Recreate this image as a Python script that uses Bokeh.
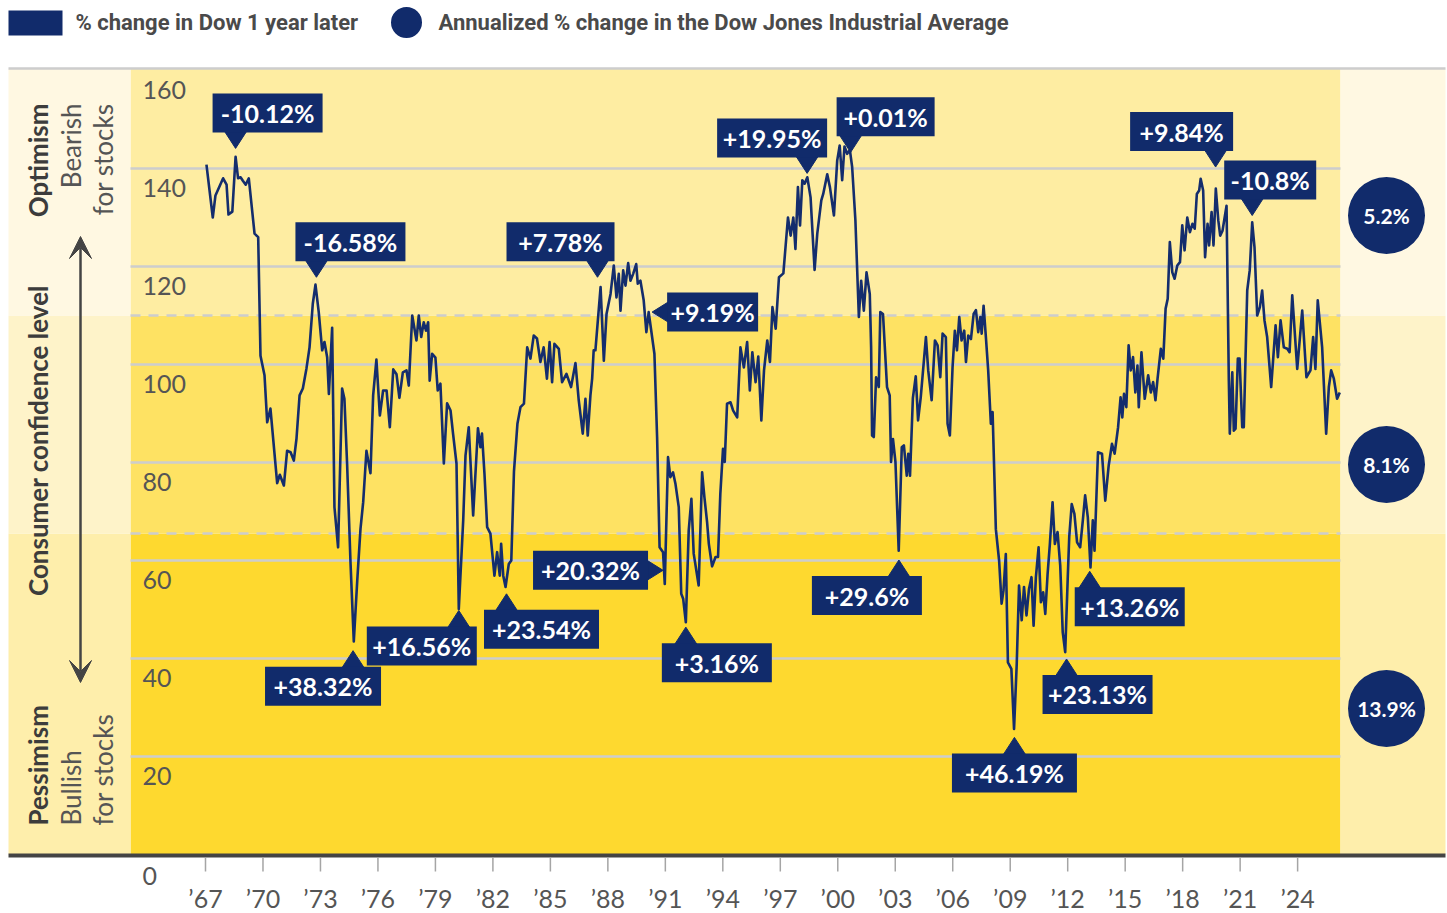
import math
from bokeh.plotting import figure
from bokeh.models import Range1d, Arrow, VeeHead
from bokeh.core.properties import value
from bokeh.embed import file_html
from bokeh.resources import INLINE

# ---------------- data ----------------
dates = [
    1967.05, 1967.38, 1967.52, 1967.92, 1968.10, 1968.20, 1968.40, 1968.57, 1968.70, 1968.83,
    1968.95, 1969.10, 1969.26, 1969.56, 1969.75, 1969.87, 1970.08, 1970.22, 1970.39, 1970.74,
    1970.88, 1971.09, 1971.26, 1971.44, 1971.61, 1971.75, 1971.91, 1972.08, 1972.27, 1972.43,
    1972.60, 1972.74, 1972.91, 1973.09, 1973.21, 1973.35, 1973.44, 1973.61, 1973.73, 1973.92,
    1974.13, 1974.25, 1974.39, 1974.57, 1974.74, 1974.92, 1975.09, 1975.23, 1975.40, 1975.61,
    1975.75, 1975.92, 1976.10, 1976.27, 1976.45, 1976.62, 1976.80, 1976.97, 1977.12, 1977.30,
    1977.49, 1977.61, 1977.79, 1978.01, 1978.13, 1978.26, 1978.39, 1978.51, 1978.62, 1978.70,
    1978.83, 1979.00, 1979.12, 1979.26, 1979.44, 1979.61, 1979.79, 1979.92, 1980.10, 1980.22,
    1980.45, 1980.57, 1980.74, 1980.97, 1981.22, 1981.35, 1981.43, 1981.56, 1981.70, 1981.87,
    1982.08, 1982.22, 1982.36, 1982.43, 1982.54, 1982.66, 1982.83, 1982.96, 1983.10, 1983.28,
    1983.44, 1983.62, 1983.79, 1983.96, 1984.13, 1984.30, 1984.48, 1984.65, 1984.82, 1984.96,
    1985.09, 1985.21, 1985.44, 1985.61, 1985.84, 1986.08, 1986.31, 1986.48, 1986.69, 1986.83,
    1986.95, 1987.09, 1987.18, 1987.26, 1987.35, 1987.62, 1987.79, 1987.93, 1988.14, 1988.31,
    1988.45, 1988.57, 1988.66, 1988.80, 1988.92, 1989.06, 1989.18, 1989.32, 1989.48, 1989.56,
    1989.70, 1989.87, 1990.01, 1990.13, 1990.25, 1990.43, 1990.57, 1990.70, 1990.88, 1990.97,
    1991.14, 1991.26, 1991.40, 1991.53, 1991.70, 1991.83, 1991.93, 1992.07, 1992.22, 1992.36,
    1992.48, 1992.74, 1992.92, 1993.04, 1993.18, 1993.27, 1993.44, 1993.62, 1993.75, 1993.87,
    1994.01, 1994.10, 1994.22, 1994.40, 1994.54, 1994.75, 1994.92, 1995.10, 1995.27, 1995.41,
    1995.54, 1995.71, 1995.85, 1996.01, 1996.15, 1996.32, 1996.46, 1996.59, 1996.76, 1996.93,
    1997.16, 1997.40, 1997.54, 1997.68, 1997.79, 1997.92, 1998.03, 1998.15, 1998.27, 1998.41,
    1998.58, 1998.79, 1998.93, 1999.14, 1999.24, 1999.45, 1999.59, 1999.80, 1999.97, 2000.10,
    2000.23, 2000.35, 2000.49, 2000.63, 2000.75, 2000.92, 2001.10, 2001.22, 2001.36, 2001.50,
    2001.67, 2001.74, 2001.79, 2001.88, 2002.00, 2002.14, 2002.22, 2002.36, 2002.57, 2002.71,
    2002.78, 2002.88, 2003.01, 2003.18, 2003.34, 2003.45, 2003.60, 2003.68, 2003.77, 2003.92,
    2004.07, 2004.19, 2004.33, 2004.60, 2004.72, 2004.90, 2005.07, 2005.21, 2005.35, 2005.47,
    2005.64, 2005.73, 2005.85, 2005.99, 2006.11, 2006.22, 2006.34, 2006.46, 2006.60, 2006.69,
    2006.81, 2006.95, 2007.09, 2007.21, 2007.33, 2007.44, 2007.51, 2007.61, 2007.73, 2007.85,
    2007.99, 2008.08, 2008.25, 2008.42, 2008.55, 2008.65, 2008.77, 2008.88, 2009.06, 2009.20,
    2009.34, 2009.46, 2009.60, 2009.72, 2009.85, 2009.98, 2010.11, 2010.22, 2010.34, 2010.48,
    2010.60, 2010.72, 2010.83, 2010.95, 2011.07, 2011.21, 2011.33, 2011.47, 2011.61, 2011.74,
    2011.87, 2012.00, 2012.08, 2012.21, 2012.35, 2012.49, 2012.65, 2012.79, 2012.91, 2013.05,
    2013.19, 2013.31, 2013.40, 2013.58, 2013.79, 2013.96, 2014.14, 2014.31, 2014.45, 2014.63,
    2014.76, 2014.85, 2014.94, 2015.06, 2015.18, 2015.29, 2015.41, 2015.53, 2015.64, 2015.71,
    2015.85, 2016.02, 2016.20, 2016.34, 2016.46, 2016.58, 2016.69, 2016.86, 2016.99, 2017.11,
    2017.22, 2017.33, 2017.46, 2017.58, 2017.72, 2017.86, 2017.98, 2018.10, 2018.24, 2018.38,
    2018.51, 2018.63, 2018.74, 2018.86, 2018.94, 2019.07, 2019.17, 2019.30, 2019.38, 2019.51,
    2019.61, 2019.73, 2019.86, 2019.96, 2020.08, 2020.29, 2020.41, 2020.46, 2020.59, 2020.67,
    2020.76, 2020.88, 2020.97, 2021.11, 2021.19, 2021.37, 2021.50, 2021.63, 2021.75, 2021.89,
    2022.03, 2022.15, 2022.27, 2022.41, 2022.62, 2022.85, 2022.97, 2023.11, 2023.28, 2023.46,
    2023.58, 2023.72, 2023.98, 2024.24, 2024.46, 2024.67, 2024.81, 2024.93, 2025.05, 2025.28,
    2025.49, 2025.63, 2025.75, 2025.89, 2026.06, 2026.20,
]
confidence = [
    140.8, 130.0, 134.5, 138.0, 136.7, 130.6, 131.2, 142.4, 138.0, 138.2,
    137.5, 136.7, 138.0, 126.7, 126.0, 101.8, 97.8, 88.2, 91.0, 75.8,
    77.5, 75.3, 82.4, 82.1, 80.4, 84.9, 93.7, 95.1, 99.2, 103.5,
    112.4, 116.3, 110.7, 102.9, 104.6, 101.5, 94.0, 107.5, 70.9, 62.7,
    95.1, 93.0, 79.8, 59.4, 43.5, 55.9, 66.5, 71.9, 82.4, 77.8,
    93.7, 101.0, 89.6, 94.7, 94.7, 87.2, 99.0, 98.0, 93.2, 98.4,
    98.8, 95.7, 110.0, 104.9, 110.0, 105.6, 108.6, 106.9, 108.6, 96.7,
    102.2, 101.4, 94.7, 96.1, 79.8, 92.1, 90.6, 85.9, 79.8, 50.1,
    68.2, 81.4, 87.2, 69.2, 87.0, 83.1, 85.9, 77.7, 66.8, 65.5,
    56.9, 61.7, 56.9, 63.4, 56.9, 54.6, 59.3, 60.0, 78.2, 87.9,
    91.3, 92.0, 103.5, 101.2, 105.9, 105.3, 100.5, 103.5, 97.1, 104.6,
    96.4, 104.2, 103.2, 96.4, 98.1, 95.4, 100.3, 92.7, 85.9, 93.0,
    85.5, 93.7, 97.1, 102.9, 102.9, 115.8, 100.8, 110.3, 114.4, 120.2,
    113.7, 118.5, 111.0, 119.2, 116.1, 120.7, 117.1, 118.5, 120.5, 116.5,
    117.1, 113.1, 106.6, 110.7, 107.3, 102.2, 85.2, 62.7, 61.7, 55.2,
    81.1, 77.0, 78.0, 75.6, 70.9, 53.2, 52.2, 47.4, 66.1, 72.6,
    61.4, 54.9, 78.0, 72.9, 67.8, 63.4, 58.8, 60.7, 60.7, 73.6,
    82.8, 80.1, 92.0, 92.3, 90.6, 89.2, 103.5, 99.4, 104.6, 94.7,
    102.5, 96.4, 101.6, 88.6, 98.8, 104.9, 100.5, 111.7, 107.3, 117.8,
    118.6, 130.0, 126.3, 130.0, 123.6, 136.2, 128.4, 137.6, 136.9, 138.2,
    134.1, 119.3, 126.7, 133.5, 134.8, 138.8, 136.2, 130.4, 141.6, 144.7,
    137.6, 144.5, 143.0, 143.8, 140.3, 129.4, 109.7, 117.1, 111.0, 118.8,
    114.4, 103.5, 85.5, 85.2, 97.4, 95.4, 110.7, 110.3, 95.4, 93.7,
    80.1, 84.8, 80.1, 62.0, 83.1, 83.5, 77.3, 81.8, 77.3, 93.2,
    97.6, 88.6, 93.3, 105.6, 98.8, 92.7, 104.9, 103.9, 97.4, 106.3,
    105.6, 87.9, 85.5, 99.4, 106.9, 102.9, 109.7, 104.9, 106.9, 100.5,
    105.9, 105.2, 110.3, 111.1, 106.6, 109.7, 106.3, 112.0, 105.6, 98.8,
    87.9, 90.3, 66.4, 60.0, 51.2, 53.9, 61.3, 39.2, 37.9, 25.6,
    38.9, 54.9, 47.8, 54.6, 48.8, 54.2, 56.6, 46.7, 56.6, 62.7,
    51.5, 53.5, 49.1, 57.2, 63.4, 71.9, 63.4, 65.8, 59.0, 45.4,
    41.3, 56.2, 64.8, 71.5, 69.5, 63.7, 62.7, 68.2, 73.3, 68.8,
    58.6, 68.2, 62.0, 82.1, 81.8, 72.2, 79.4, 83.8, 81.8, 87.2,
    93.3, 89.2, 94.0, 91.3, 103.9, 98.8, 101.5, 94.3, 99.8, 91.3,
    102.5, 93.0, 97.8, 94.3, 96.4, 92.7, 97.1, 103.2, 101.2, 111.4,
    113.4, 125.0, 118.8, 117.5, 120.2, 120.9, 128.4, 123.3, 130.0, 127.0,
    128.7, 127.7, 134.8, 135.5, 137.9, 135.5, 121.9, 128.7, 124.3, 131.1,
    124.3, 135.9, 129.4, 126.3, 127.3, 132.4, 96.7, 85.9, 98.4, 86.5,
    86.9, 101.2, 101.2, 87.2, 87.2, 115.1, 119.2, 129.0, 123.9, 110.0,
    111.7, 115.1, 109.0, 105.6, 95.4, 108.0, 101.5, 109.0, 103.5, 103.2,
    102.5, 114.1, 99.1, 111.0, 97.4, 98.8, 105.6, 99.1, 113.1, 103.5,
    85.9, 95.4, 98.8, 97.1, 93.0, 94.3,
]

y_ticks = [0, 20, 40, 60, 80, 100, 120, 140, 160]
year_ticks = [1967, 1970, 1973, 1976, 1979, 1982, 1985, 1988, 1991, 1994,
              1997, 2000, 2003, 2006, 2009, 2012, 2015, 2018, 2021, 2024]
year_labels = ["\u201967", "\u201970", "\u201973", "\u201976", "\u201979", "\u201982",
               "\u201985", "\u201988", "\u201991", "\u201994", "\u201997", "\u201900",
               "\u201903", "\u201906", "\u201909", "\u201912", "\u201915", "\u201918",
               "\u201921", "\u201924"]

zone_edges = [0, 65.5, 110, 160.4]          # pessimism / neutral / optimism
zone_returns = ["13.9%", "8.1%", "5.2%"]     # annualized Dow change per zone

ann_dates = [1968.57, 1972.79, 1987.46, 1990.31, 1998.40, 2000.67, 2019.72, 2021.63,
             1974.70, 1980.22, 1982.71, 1990.88, 1992.07, 2003.19, 2009.22, 2011.94, 2013.15]
ann_values = [144.1, 117.8, 117.8, 110.7, 139.0, 143.3, 140.3, 130.4,
              41.6, 49.8, 53.2, 58.0, 46.4, 60.1, 23.9, 39.9, 57.8]
ann_texts = ["-10.12%", "-16.58%", "+7.78%", "+9.19%", "+19.95%", "+0.01%", "+9.84%", "-10.8%",
             "+38.32%", "+16.56%", "+23.54%", "+20.32%", "+3.16%", "+29.6%", "+46.19%",
             "+23.13%", "+13.26%"]

# ---------------- layout / style ----------------
ann_sides = ["down", "down", "down", "left", "down", "down", "down", "down",
             "up", "up", "up", "right", "up", "up", "up", "up", "up"]
ann_box_w = [110, 110, 108, 91, 110, 98, 103, 92, 116, 110, 115, 115, 110, 110, 125, 110, 110]
ann_box_dx = [32, 34, -37, 0, -35, 35, -34, 18, -30, -37, 35, 0, 31, -32, 0, 31, 40]

NAVY = "#112B6B"
LINE = "#142D6D"
GRID = "#CDCDCD"
TXT = "#555555"
DARK = "#3C3C3C"
FONT = "Lato"
LEG_FONT = "Roboto"

PXY = 19.16   # pixels per year
PXU = 4.9     # pixels per index point


def X(px):  # canvas pixel -> year
    return 1967 + (px - 205) / PXY


def Y(py):  # canvas pixel -> index value
    return (854 - py) / PXU


W, H = 1446, 912
p = figure(width=W, height=H, x_range=Range1d(X(0), X(W)), y_range=Range1d(Y(H), Y(0)),
           output_backend="svg", toolbar_location=None, min_border=0,
           x_axis_location=None, y_axis_location=None)
p.grid.visible = False
p.outline_line_color = None
p.background_fill_color = "white"
p.border_fill_color = "white"

# zone bands
plot_cols = ["#FED92F", "#FEE263", "#FEEDA2"]
side_cols = ["#FEEEAB", "#FEF3C9", "#FFF8E2"]
p.quad(left=X(130), right=X(1340), bottom=zone_edges[:-1], top=zone_edges[1:],
       fill_color=plot_cols, line_color=None)
p.quad(left=X(8), right=X(130), bottom=zone_edges[:-1], top=zone_edges[1:],
       fill_color=side_cols, line_color=None)
p.quad(left=X(1340), right=X(1445), bottom=zone_edges[:-1], top=zone_edges[1:],
       fill_color=side_cols, line_color=None)

# grid lines
grid_vals = [v for v in y_ticks if 0 < v < 160]
p.segment(x0=[X(130)] * len(grid_vals), y0=grid_vals, x1=[X(1340)] * len(grid_vals), y1=grid_vals,
          line_color=GRID, line_width=2.5)
p.segment(x0=[X(8)], y0=[zone_edges[-1]], x1=[X(1445)], y1=[zone_edges[-1]],
          line_color=GRID, line_width=2.5)
mid = zone_edges[1:-1]
p.segment(x0=[X(130)] * len(mid), y0=mid, x1=[X(1340)] * len(mid), y1=mid,
          line_color=GRID, line_width=2.5, line_dash="10 8")

# y tick labels (inside the plot, under each grid line)
lab_vals = [v for v in y_ticks if v > 0]
p.text(x=[X(142)] * len(lab_vals), y=[v - 19 / PXU for v in lab_vals], text=[str(v) for v in lab_vals],
       text_font=value(FONT), text_font_size="25px", text_color=TXT,
       text_align="left", text_baseline="middle")
p.text(x=[X(142)], y=[Y(875)], text=[str(y_ticks[0])],
       text_font=value(FONT), text_font_size="25px", text_color=TXT,
       text_align="left", text_baseline="middle")

# x axis line, ticks, labels
p.segment(x0=[X(8)], y0=[Y(855)], x1=[X(1445)], y1=[Y(855)], line_color="#444444", line_width=4)
p.segment(x0=year_ticks, y0=[Y(857)] * len(year_ticks), x1=year_ticks, y1=[Y(871)] * len(year_ticks),
          line_color="#A5A5A5", line_width=1.5)
p.text(x=year_ticks, y=[Y(897)] * len(year_ticks), text=year_labels,
       text_font=value(FONT), text_font_size="25px", text_color=TXT,
       text_align="center", text_baseline="middle")

# confidence line
p.line(dates, confidence, line_color=LINE, line_width=2.6, line_join="round")

# annotations
BOX_H, TRI_H, TRI_HW = 39, 17, 11
bl, br, bb, bt, cx_l, cy_l, txs, tys = [], [], [], [], [], [], [], []
for d, v, side, w, off in zip(ann_dates, ann_values, ann_sides, ann_box_w, ann_box_dx):
    if side in ("down", "up"):
        sgn = 1 if side == "down" else -1
        base = v + sgn * TRI_H / PXU
        txs.append([d - TRI_HW / PXY, d + TRI_HW / PXY, d])
        tys.append([base, base, v])
        near = v + sgn * (TRI_H - 1) / PXU
        far = near + sgn * BOX_H / PXU
        b, t = min(near, far), max(near, far)
        c = d + off / PXY
        l, r = c - w / 2 / PXY, c + w / 2 / PXY
    else:
        sgn = 1 if side == "left" else -1
        base = d + sgn * 16 / PXY
        txs.append([base, base, d])
        tys.append([v + 10 / PXU, v - 10 / PXU, v])
        near = d + sgn * 15 / PXY
        far = near + sgn * w / PXY
        l, r = min(near, far), max(near, far)
        b, t = v - BOX_H / 2 / PXU, v + BOX_H / 2 / PXU
    bl.append(l); br.append(r); bb.append(b); bt.append(t)
    cx_l.append((l + r) / 2); cy_l.append((b + t) / 2)

p.patches(xs=txs, ys=tys, fill_color=NAVY, line_color=NAVY)
p.quad(left=bl, right=br, bottom=bb, top=bt, fill_color=NAVY, line_color=None)
p.text(x=cx_l, y=cy_l, text=ann_texts, text_font=value(FONT), text_font_size="25px",
       text_font_style="bold", text_color="white", text_align="center", text_baseline="middle")

# zone return circles
circle_y = [Y(708), Y(464), Y(215)]
p.scatter(x=[X(1386)] * 3, y=circle_y, size=77, marker="circle", fill_color=NAVY, line_color=None)
p.text(x=[X(1386)] * 3, y=circle_y, text=zone_returns, text_font=value(FONT), text_font_size="21px",
       text_font_style="bold", text_color="white", text_align="center", text_baseline="middle")

# left panel texts (rotated, reading bottom to top)
rot = math.pi / 2
p.text(x=[X(37.5)], y=[Y(103)], text=["Optimism"], angle=rot, text_font=value(FONT),
       text_font_size="26px", text_font_style="bold", text_color=DARK,
       text_align="right", text_baseline="middle")
p.text(x=[X(70), X(102)], y=[Y(103), Y(103)], text=["Bearish", "for stocks"], angle=rot,
       text_font=value(FONT), text_font_size="26px", text_color=TXT,
       text_align="right", text_baseline="middle")
p.text(x=[X(37.5)], y=[Y(440)], text=["Consumer confidence level"], angle=rot, text_font=value(FONT),
       text_font_size="26px", text_font_style="bold", text_color=DARK,
       text_align="center", text_baseline="middle")
p.text(x=[X(37.5)], y=[Y(825)], text=["Pessimism"], angle=rot, text_font=value(FONT),
       text_font_size="26px", text_font_style="bold", text_color=DARK,
       text_align="left", text_baseline="middle")
p.text(x=[X(70), X(102)], y=[Y(825), Y(825)], text=["Bullish", "for stocks"], angle=rot,
       text_font=value(FONT), text_font_size="26px", text_color=TXT,
       text_align="left", text_baseline="middle")
p.add_layout(Arrow(start=VeeHead(size=22, fill_color="#444444", line_color="#444444"),
                   end=VeeHead(size=22, fill_color="#444444", line_color="#444444"),
                   x_start=X(80), y_start=Y(682), x_end=X(80), y_end=Y(236),
                   line_color="#444444", line_width=2.5))

# legend
p.quad(left=[X(8)], right=[X(62)], bottom=[Y(35)], top=[Y(10)], fill_color=NAVY, line_color=None)
p.scatter(x=[X(406)], y=[Y(22)], size=31, marker="circle", fill_color=NAVY, line_color=None)
p.text(x=[X(75), X(438)], y=[Y(22), Y(22)],
       text=["% change in Dow 1 year later", "Annualized % change in the Dow Jones Industrial Average"],
       text_font=value(LEG_FONT), text_font_size="22px", text_font_style="bold", text_color="#4A4A4A",
       text_align="left", text_baseline="middle")

open("out.html", "w").write(file_html(p, INLINE))
